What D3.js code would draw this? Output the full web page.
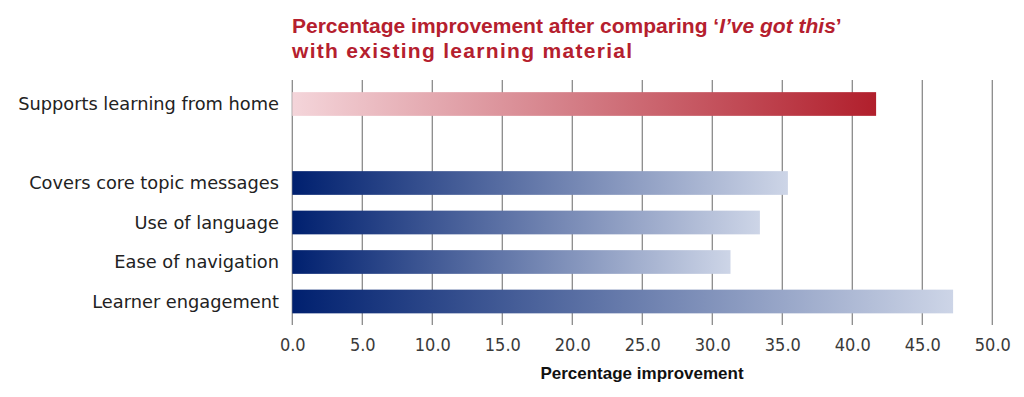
<!DOCTYPE html>
<html><head><meta charset="utf-8">
<script src="https://cdn.jsdelivr.net/npm/d3@7"></script>
<style>
html,body{margin:0;padding:0;background:#fff;}
svg{display:block;}
</style></head>
<body>
<svg id="chart" width="1024" height="397"></svg>
<script>
const categories = ["Supports learning from home", "", "Covers core topic messages", "Use of language", "Ease of navigation", "Learner engagement"];
const values = [41.7, null, 35.4, 33.4, 31.3, 47.2];
const groups = ["red", null, "blue", "blue", "blue", "blue"];
const tickValues = [0, 5, 10, 15, 20, 25, 30, 35, 40, 45, 50];
const titleLine1 = ["Percentage improvement after comparing ‘", "I’ve got this", "’"];
const titleLine2 = "with existing learning material";
const axisTitle = "Percentage improvement";

const svg = d3.select("#chart");
const x = d3.scaleLinear().domain([0, 50]).range([292.3, 992.3]);
const y = d3.scaleBand().domain(categories.map((c,i)=>i)).range([84.25, 321.25]).paddingInner(0.4).paddingOuter(0.2);

const defs = svg.append("defs");
const gRed = defs.append("linearGradient").attr("id","gradRed").attr("x1","0").attr("x2","1").attr("y1","0").attr("y2","0");
gRed.append("stop").attr("offset","0").attr("stop-color","#f4d5da");
gRed.append("stop").attr("offset","1").attr("stop-color","#b11f2c");
const gBlue = defs.append("linearGradient").attr("id","gradBlue").attr("x1","0").attr("x2","1").attr("y1","0").attr("y2","0");
gBlue.append("stop").attr("offset","0").attr("stop-color","#00206f");
gBlue.append("stop").attr("offset","1").attr("stop-color","#cdd5e7");

// grid lines
svg.append("g").selectAll("line").data(tickValues).join("line")
  .attr("x1", d=>x(d)).attr("x2", d=>x(d))
  .attr("y1", 80).attr("y2", 325)
  .attr("stroke", "#8a8a8a").attr("stroke-width", 1.3);

// bars
const data = categories.map((c,i)=>({c, i, v: values[i], g: groups[i]})).filter(d=>d.v!=null);
svg.append("g").selectAll("rect").data(data).join("rect")
  .attr("x", x(0)).attr("y", d=>y(d.i))
  .attr("width", d=>x(d.v)-x(0)).attr("height", y.bandwidth())
  .attr("fill", d=> d.g==="red" ? "url(#gradRed)" : "url(#gradBlue)");

// category labels
svg.append("g").selectAll("text").data(categories.map((c,i)=>({c,i})).filter(d=>d.c))
  .join("text")
  .attr("x", 279).attr("y", d=>y(d.i)+y.bandwidth()/2)
  .attr("dy", "0.35em").attr("text-anchor","end")
  .attr("font-family","'DejaVu Sans', sans-serif").attr("font-size", 17.8)
  .attr("fill","#222")
  .text(d=>d.c);

// x axis tick labels
const xAxis = d3.axisBottom(x).tickValues(tickValues).tickFormat(d3.format(".1f")).tickSize(0).tickPadding(0);
const ax = svg.append("g").attr("transform","translate(0,338)").call(xAxis);
ax.select(".domain").remove();
ax.selectAll("text").attr("font-family","'DejaVu Sans Condensed','DejaVu Sans',sans-serif")
  .attr("font-stretch","condensed")
  .attr("font-size", 18).attr("fill","#3a3a3a").attr("dy","0.71em").attr("y",0);

// axis title
svg.append("text").attr("x", 642).attr("y", 379).attr("text-anchor","middle")
  .attr("font-family","'Liberation Sans',Arial,sans-serif").attr("font-weight","bold")
  .attr("font-size", 17).attr("fill","#111").text(axisTitle);

// title
const t = svg.append("text").attr("font-family","'Liberation Sans',Arial,sans-serif")
  .attr("font-weight","bold").attr("font-size", 21).attr("fill","#b5202e");
const l1 = t.append("tspan").attr("x", 292).attr("y", 33);
l1.append("tspan").text(titleLine1[0]);
l1.append("tspan").attr("font-style","italic").text(titleLine1[1]);
l1.append("tspan").text(titleLine1[2]);
t.append("tspan").attr("x", 292).attr("y", 58).attr("letter-spacing", 1.3).text(titleLine2);
</script>
</body></html>
